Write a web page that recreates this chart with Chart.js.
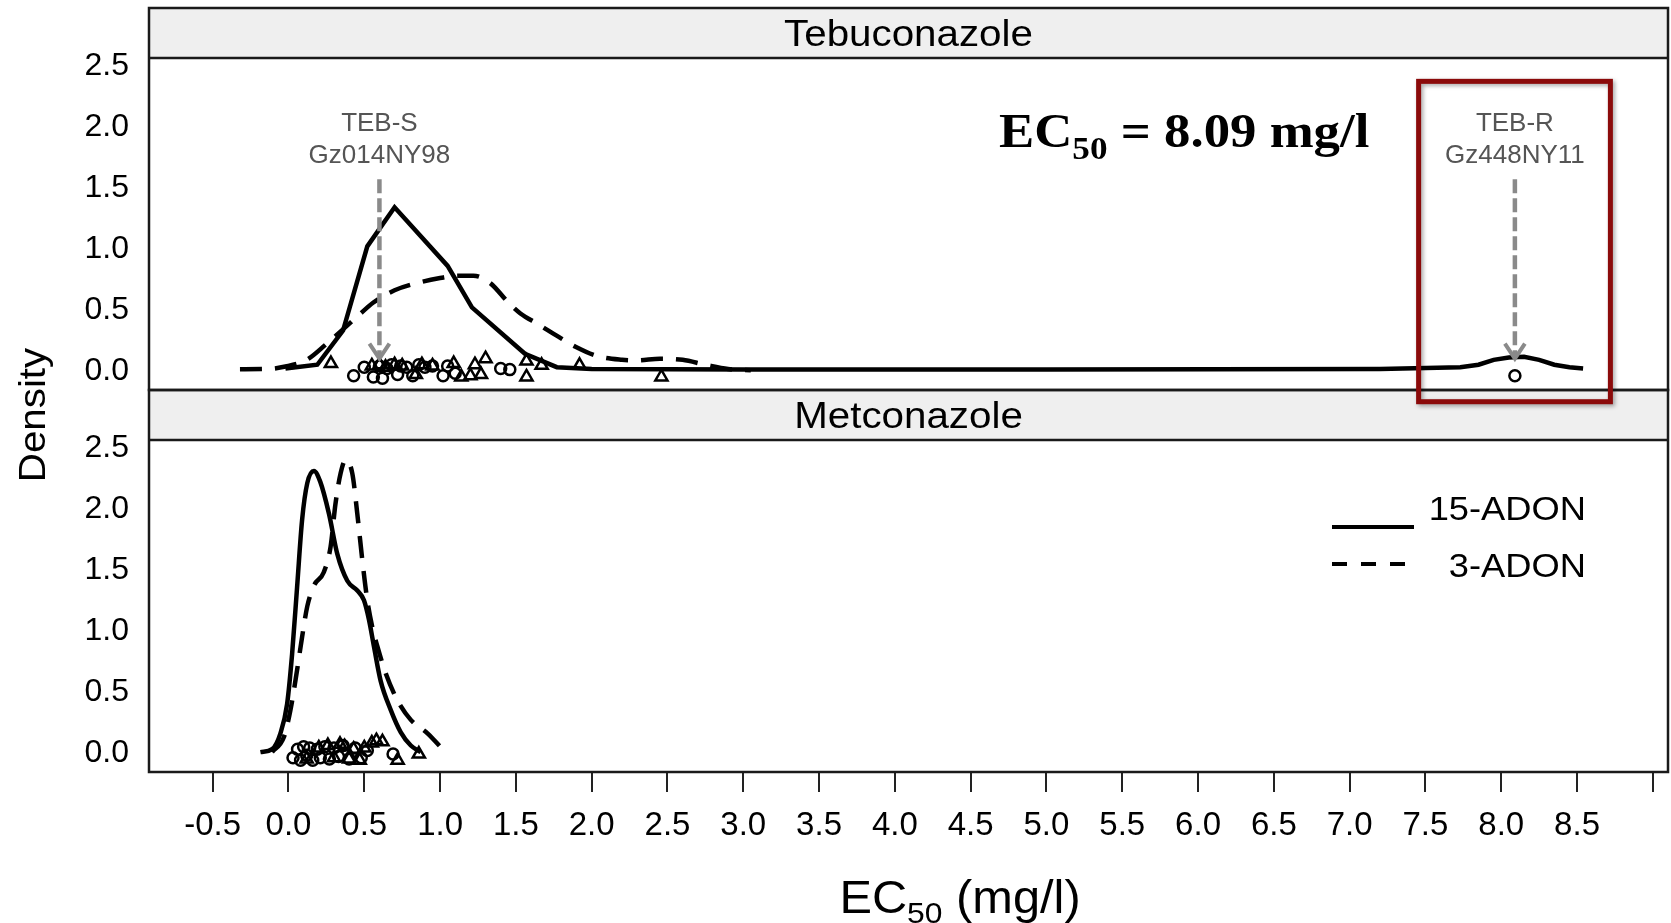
<!DOCTYPE html>
<html lang="en">
<head>
<meta charset="UTF-8" />
<title>EC50 density - Tebuconazole / Metconazole</title>
<script src="https://cdn.jsdelivr.net/npm/chart.js"></script>
<style>
  body { margin: 0; background: #fff; }
  #wrap { width: 1671px; height: 923px; position: relative; }
</style>
</head>
<body>
<div id="wrap"><canvas id="chart"></canvas></div>
<script>
// panel names and series names
const panels = ['Tebuconazole', 'Metconazole'];
const groups = ['15-ADON', '3-ADON'];

// tick labels
const xTicks = [-0.5, 0, 0.5, 1, 1.5, 2, 2.5, 3, 3.5, 4, 4.5, 5, 5.5, 6, 6.5, 7, 7.5, 8, 8.5, 9];
const yTicks = [0, 0.5, 1, 1.5, 2, 2.5];

// Tebuconazole density curves
const tebSolidX = [-0.02, 0.19, 0.36, 0.52, 0.7, 1.05, 1.21, 1.56, 1.77, 2.0, 3.0, 5.0, 7.2, 7.73, 7.85, 7.95, 8.05, 8.15, 8.25, 8.35, 8.45, 8.54];
const tebSolidY = [0.02, 0.05, 0.33, 1.02, 1.34, 0.86, 0.52, 0.14, 0.03, 0.015, 0.01, 0.01, 0.015, 0.03, 0.05, 0.09, 0.11, 0.115, 0.09, 0.05, 0.03, 0.02];
const tebDashX = [-0.32, -0.14, -0.02, 0.12, 0.25, 0.35, 0.45, 0.56, 0.7, 0.85, 1.0, 1.12, 1.22, 1.33, 1.45, 1.53, 1.65, 1.78, 1.89, 2.04, 2.2, 2.3, 2.45, 2.6, 2.75, 2.9, 3.05];
const tebDashY = [0.013, 0.015, 0.035, 0.09, 0.22, 0.33, 0.44, 0.56, 0.66, 0.72, 0.76, 0.78, 0.78, 0.72, 0.56, 0.47, 0.38, 0.28, 0.2, 0.12, 0.09, 0.085, 0.1, 0.09, 0.05, 0.015, 0.005];

// Tebuconazole isolates (rug, jittered)
const tebCircleX = [0.43, 0.5, 0.56, 0.6, 0.62, 0.65, 0.68, 0.72, 0.74, 0.78, 0.82, 0.86, 0.9, 0.95, 1.02, 1.05, 1.1, 1.4, 1.46, 8.09];
const tebCircleY = [-0.04, 0.03, -0.05, 0.04, -0.06, 0.02, 0.05, -0.03, 0.04, 0.03, -0.04, 0.05, 0.03, 0.04, -0.04, 0.04, -0.02, 0.02, 0.01, -0.04];
const tebTriX = [0.28, 0.55, 0.6, 0.64, 0.7, 0.75, 0.84, 0.88, 0.95, 1.09, 1.14, 1.2, 1.23, 1.27, 1.3, 1.57, 1.57, 1.67, 1.92, 2.46];
const tebTriY = [0.06, 0.04, 0.05, 0.03, 0.05, 0.04, -0.03, 0.05, 0.04, 0.06, -0.05, -0.04, 0.05, -0.03, 0.1, 0.08, -0.05, 0.045, 0.045, -0.05];

// Metconazole density curves
const metSolidX = [-0.185, -0.108, -0.053, -0.009, 0.024, 0.057, 0.09, 0.124, 0.168, 0.21, 0.267, 0.322, 0.388, 0.454, 0.498, 0.531, 0.564, 0.608, 0.675, 0.74, 0.807, 0.873];
const metSolidY = [0.006, 0.03, 0.16, 0.40, 0.81, 1.36, 1.91, 2.21, 2.31, 2.22, 1.96, 1.63, 1.41, 1.33, 1.25, 1.09, 0.87, 0.59, 0.35, 0.17, 0.06, 0.006];
const metDashX = [-0.108, -0.03, 0.013, 0.057, 0.09, 0.124, 0.168, 0.233, 0.278, 0.31, 0.344, 0.377, 0.421, 0.454, 0.487, 0.52, 0.553, 0.587, 0.642, 0.719, 0.807, 0.917, 1.017];
const metDashY = [0.006, 0.13, 0.35, 0.68, 0.95, 1.2, 1.37, 1.48, 1.69, 2.04, 2.29, 2.40, 2.29, 1.96, 1.58, 1.25, 1.03, 0.87, 0.65, 0.43, 0.27, 0.16, 0.03];

// Metconazole isolates (rug, jittered)
const metCircleX = [0.03, 0.06, 0.08, 0.1, 0.12, 0.14, 0.16, 0.19, 0.21, 0.24, 0.27, 0.3, 0.33, 0.36, 0.4, 0.44, 0.48, 0.52, 0.69];
const metCircleY = [-0.04, 0.03, -0.06, 0.05, -0.02, 0.04, -0.06, 0.03, -0.04, 0.05, -0.05, 0.04, -0.03, 0.06, -0.05, 0.04, -0.04, 0.02, -0.01];
const metTriX = [0.12, 0.2, 0.26, 0.3, 0.34, 0.37, 0.4, 0.43, 0.47, 0.5, 0.55, 0.58, 0.62, 0.72, 0.86];
const metTriY = [-0.05, 0.04, 0.06, -0.04, 0.07, 0.05, -0.05, 0.03, -0.06, 0.04, 0.08, 0.1, 0.09, -0.06, -0.01];

// reference isolates marked with arrows
const refX = [0.6, 8.09];
const refName = ['TEB-S', 'TEB-R'];
const refIsolate = ['Gz014NY98', 'Gz448NY11'];
const refEC50Text = '8.09';

const SANS = "'Liberation Sans', Arial, Helvetica, sans-serif";
const SERIF = "'Liberation Serif', 'Times New Roman', serif";
const STRIP_H = 50;

const pts = (xs, ys) => xs.map((x, i) => ({ x, y: ys[i] }));

function curve(label, xs, ys, axis, dashed, tension) {
  return {
    label, data: pts(xs, ys), yAxisID: axis, showLine: true,
    borderColor: '#000', borderWidth: 4.5, borderDash: dashed ? [22, 13] : [],
    pointRadius: 0, tension, cubicInterpolationMode: tension ? 'monotone' : 'default', fill: false
  };
}
function rug(label, xs, ys, axis, style) {
  return {
    label, data: pts(xs, ys), yAxisID: axis, showLine: false,
    pointStyle: style, pointRadius: style === 'triangle' ? 7 : 5.5,
    borderColor: '#000', backgroundColor: 'rgba(0,0,0,0)', pointBorderWidth: 2.5
  };
}

function drawText(ctx, text, x, y, font, sx, align, color) {
  ctx.save();
  ctx.translate(x, y);
  ctx.scale(sx, 1);
  ctx.font = font;
  ctx.fillStyle = color || '#000';
  ctx.textAlign = align || 'center';
  ctx.textBaseline = 'alphabetic';
  ctx.fillText(text, 0, 0);
  ctx.restore();
}

const panelPlugin = {
  id: 'panels',
  beforeDatasetsDraw(chart) {
    const { ctx, chartArea: a } = chart;
    [chart.scales.yTop, chart.scales.yBot].forEach((s, i) => {
      ctx.save();
      ctx.fillStyle = '#efefef';
      ctx.fillRect(a.left, s.top, a.right - a.left, STRIP_H);
      ctx.restore();
      drawText(ctx, panels[i], (a.left + a.right) / 2, s.top + 38, '36px ' + SANS, 1.12, 'center', '#000');
    });
  },
  afterDatasetsDraw(chart) {
    const { ctx, chartArea: a, scales } = chart;
    const x = scales.x, yT = scales.yTop, yB = scales.yBot;

    // frames
    ctx.save();
    ctx.strokeStyle = '#1a1a1a';
    ctx.lineWidth = 2.5;
    [yT, yB].forEach(s => {
      ctx.strokeRect(a.left, s.top, a.right - a.left, s.bottom - s.top);
      ctx.beginPath();
      ctx.moveTo(a.left, s.top + STRIP_H);
      ctx.lineTo(a.right, s.top + STRIP_H);
      ctx.stroke();
    });
    ctx.restore();

    // reference arrows + labels
    refX.forEach((v, i) => {
      const px = x.getPixelForValue(v);
      const y0 = yT.getPixelForValue(1.57), y1 = yT.getPixelForValue(0.1);
      ctx.save();
      ctx.strokeStyle = '#8a8a8a';
      ctx.lineWidth = 4.5;
      ctx.setLineDash([14, 5]);
      ctx.beginPath();
      ctx.moveTo(px, y0);
      ctx.lineTo(px, y1 - 2);
      ctx.stroke();
      ctx.setLineDash([]);
      ctx.lineWidth = 4;
      ctx.beginPath();
      ctx.moveTo(px - 10, y1 - 15);
      ctx.lineTo(px, y1);
      ctx.lineTo(px + 10, y1 - 15);
      ctx.stroke();
      ctx.restore();
      drawText(ctx, refName[i], px, yT.getPixelForValue(2.04) + 9, '26px ' + SANS, 1, 'center', '#555');
      drawText(ctx, refIsolate[i], px, yT.getPixelForValue(1.78) + 9, '26px ' + SANS, 1, 'center', '#555');
    });

    // red highlight box around the resistant isolate
    const bx0 = x.getPixelForValue(7.455), bx1 = x.getPixelForValue(8.72);
    const by0 = yT.getPixelForValue(2.372), by1 = yT.getPixelForValue(-0.253);
    ctx.save();
    ctx.strokeStyle = '#8b0a0a';
    ctx.lineWidth = 5;
    ctx.shadowColor = 'rgba(0,0,0,0.35)';
    ctx.shadowBlur = 4;
    ctx.shadowOffsetX = 2;
    ctx.shadowOffsetY = 2;
    ctx.strokeRect(bx0, by0, bx1 - bx0, by1 - by0);
    ctx.restore();

    // EC50 annotation
    const tx = 999, ty = 147;
    ctx.save();
    ctx.font = 'bold 48px ' + SERIF;
    const wEC = ctx.measureText('EC').width * 1.1;
    ctx.font = 'bold 32px ' + SERIF;
    const wSub = ctx.measureText('50').width * 1.1;
    ctx.restore();
    drawText(ctx, 'EC', tx, ty, 'bold 48px ' + SERIF, 1.1, 'left');
    drawText(ctx, '50', tx + wEC, ty + 12, 'bold 32px ' + SERIF, 1.1, 'left');
    drawText(ctx, ' = ' + refEC50Text + ' mg/l', tx + wEC + wSub, ty, 'bold 48px ' + SERIF, 1.1, 'left');

    // legend (bottom panel)
    const lx0 = a.right - 336, lx1 = a.right - 254, ly = yB.top;
    ctx.save();
    ctx.strokeStyle = '#000';
    ctx.lineWidth = 4;
    ctx.beginPath();
    ctx.moveTo(lx0, ly + 137); ctx.lineTo(lx1, ly + 137); ctx.stroke();
    ctx.setLineDash([15, 14]);
    ctx.beginPath();
    ctx.moveTo(lx0, ly + 174); ctx.lineTo(lx1, ly + 174); ctx.stroke();
    ctx.restore();
    drawText(ctx, groups[0], a.right - 82, ly + 130, '33px ' + SANS, 1.1, 'right');
    drawText(ctx, groups[1], a.right - 82, ly + 187, '33px ' + SANS, 1.1, 'right');
  },
  afterDraw(chart) {
    const { ctx } = chart;
    // y title
    ctx.save();
    ctx.translate(45, 415);
    ctx.rotate(-Math.PI / 2);
    drawText(ctx, 'Density', 0, 0, '36px ' + SANS, 1.12, 'center');
    ctx.restore();
    // x title with subscript
    ctx.save();
    ctx.font = '46px ' + SANS;
    const w1 = ctx.measureText('EC').width * 1.06;
    const w3 = ctx.measureText(' (mg/l)').width * 1.06;
    ctx.font = '30px ' + SANS;
    const w2 = ctx.measureText('50').width * 1.06;
    ctx.restore();
    const cx = 960, by = 913;
    const sx0 = cx - (w1 + w2 + w3) / 2;
    drawText(ctx, 'EC', sx0, by, '46px ' + SANS, 1.06, 'left');
    drawText(ctx, '50', sx0 + w1, by + 10, '30px ' + SANS, 1.06, 'left');
    drawText(ctx, ' (mg/l)', sx0 + w1 + w2, by, '46px ' + SANS, 1.06, 'left');
  }
};

const yAxis = {
  type: 'linear', position: 'left', stack: 'panels', stackWeight: 1, offset: false,
  min: -0.157, max: 2.973,
  grid: { display: false, drawTicks: false },
  border: { display: false },
  afterBuildTicks: s => { s.ticks = yTicks.map(v => ({ value: v })); },
  afterFit: s => { s.width = 149; s.paddingTop = 0; s.paddingBottom = 0; },
  ticks: { padding: 20, color: '#000', font: { family: SANS, size: 32 }, callback: v => v.toFixed(1) }
};

new Chart(document.getElementById('chart'), {
  type: 'scatter',
  data: {
    datasets: [
      curve('Tebuconazole ' + groups[0], tebSolidX, tebSolidY, 'yTop', false, 0),
      curve('Tebuconazole ' + groups[1], tebDashX, tebDashY, 'yTop', true, 0.4),
      rug('Tebuconazole isolates ' + groups[0], tebCircleX, tebCircleY, 'yTop', 'circle'),
      rug('Tebuconazole isolates ' + groups[1], tebTriX, tebTriY, 'yTop', 'triangle'),
      curve('Metconazole ' + groups[0], metSolidX, metSolidY, 'yBot', false, 0.4),
      curve('Metconazole ' + groups[1], metDashX, metDashY, 'yBot', true, 0.4),
      rug('Metconazole isolates ' + groups[0], metCircleX, metCircleY, 'yBot', 'circle'),
      rug('Metconazole isolates ' + groups[1], metTriX, metTriY, 'yBot', 'triangle')
    ]
  },
  options: {
    responsive: true,
    maintainAspectRatio: false,
    animation: false,
    layout: { autoPadding: false, padding: { top: 8, right: 3, left: 0, bottom: 0 } },
    plugins: { legend: { display: false }, tooltip: { enabled: false } },
    scales: {
      x: {
        type: 'linear', position: 'bottom', min: -0.92, max: 9.1,
        grid: { display: true, drawOnChartArea: false, drawTicks: true, tickLength: 20, color: '#222', lineWidth: 2 },
        border: { display: false },
        afterBuildTicks: s => { s.ticks = xTicks.map(v => ({ value: v })); },
        afterFit: s => { s.height = 151; s.paddingLeft = 0; s.paddingRight = 0; },
        ticks: {
          autoSkip: false, maxRotation: 0, padding: 14, color: '#000',
          font: { family: SANS, size: 33 },
          callback: v => (v === 9 ? '' : v.toFixed(1))
        }
      },
      yBot: { ...yAxis },
      yTop: { ...yAxis }
    }
  },
  plugins: [panelPlugin]
});
</script>
</body>
</html>
